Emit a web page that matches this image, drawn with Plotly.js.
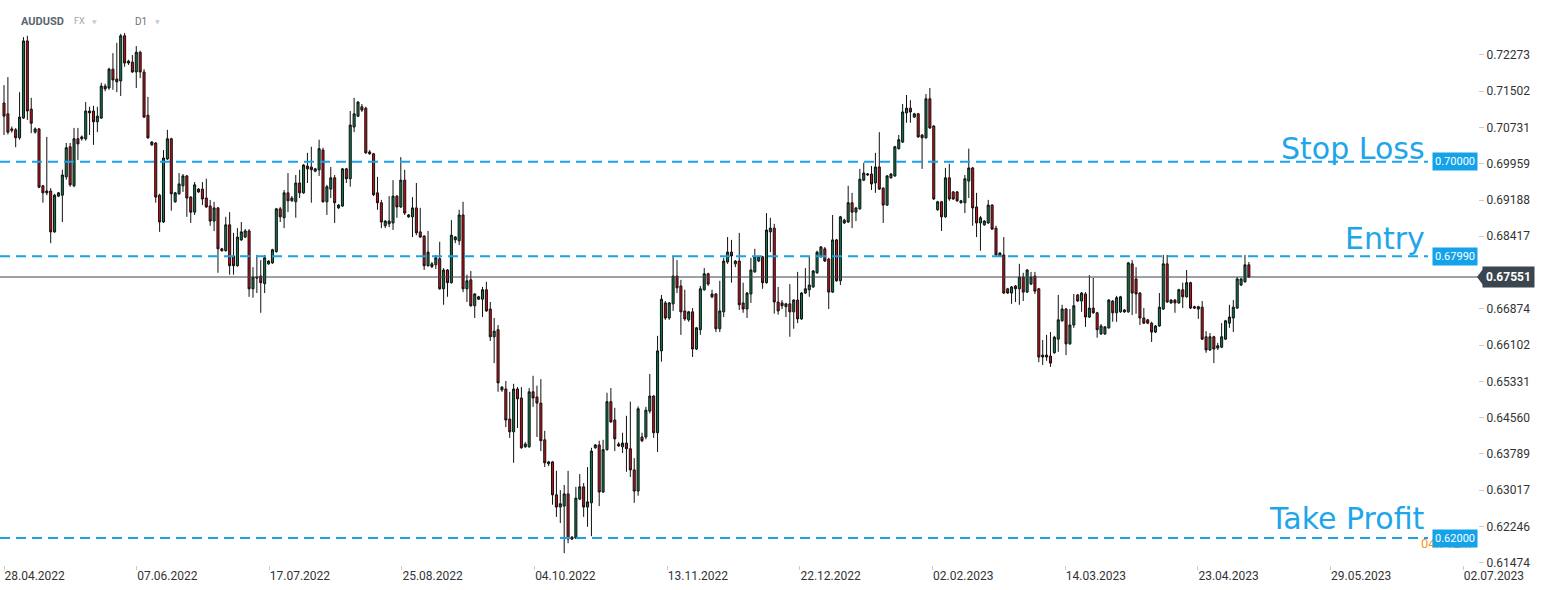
<!DOCTYPE html>
<html><head><meta charset="utf-8">
<script src="https://cdn.plot.ly/plotly-3.0.1.min.js"></script>
<style>html,body{margin:0;padding:0;background:#fff;}#chart{width:1546px;height:590px;}</style>
</head><body><div id="chart"></div>
<script>
// ---- data (AUDUSD D1) ----
const openP = [
.7125,.7102,.7070,.7068,.7051,.7093,.7257,.7112,.7063,.7070,.6949,.6938,.6938,.6851,.6927,.6929,.6968,.7032,.6949,.7049,
.7049,.7049,.7108,.7108,.7085,.7093,.7161,.7157,.7197,.7176,.7172,.7268,.7214,.7212,.7191,.7233,.7191,.7099,.7036,.7040,
.6929,.6872,.7006,.7049,.6915,.6932,.6949,.6970,.6925,.6893,.6942,.6942,.6923,.6906,.6874,.6902,.6815,.6811,.6866,.6800,
.6779,.6834,.6840,.6853,.6730,.6755,.6757,.6741,.6783,.6785,.6809,.6900,.6881,.6934,.6917,.6915,.6955,.6934,.6991,.6989,
.6980,.6983,.7025,.6915,.6942,.6966,.6902,.6906,.6985,.6964,.7074,.7097,.7117,.7114,.7021,.7017,.6934,.6913,.6864,.6868,
.6870,.6927,.6904,.6961,.6883,.6883,.6902,.6851,.6842,.6779,.6783,.6781,.6794,.6730,.6770,.6743,.6834,.6832,.6887,.6730,
.6749,.6694,.6713,.6708,.6728,.6687,.6628,.6643,.6515,.6517,.6453,.6426,.6517,.6498,.6394,.6394,.6511,.6500,.6487,.6409,
.6358,.6362,.6292,.6266,.6268,.6294,.6198,.6200,.6283,.6309,.6266,.6275,.6392,.6398,.6298,.6388,.6490,.6451,.6400,.6394,
.6402,.6390,.6345,.6300,.6415,.6415,.6470,.6502,.6424,.6598,.6700,.6668,.6698,.6757,.6736,.6683,.6664,.6681,.6602,.6643,
.6728,.6762,.6719,.6719,.6645,.6681,.6787,.6808,.6783,.6789,.6700,.6687,.6719,.6766,.6789,.6798,.6743,.6851,.6859,.6702,
.6700,.6692,.6698,.6681,.6706,.6666,.6721,.6728,.6734,.6764,.6798,.6815,.6793,.6723,.6834,.6747,.6876,.6872,.6913,.6893,
.6900,.6961,.6972,.6974,.6955,.6989,.6944,.6908,.6966,.6970,.7028,.7042,.7104,.7114,.7095,.7102,.7057,.7051,.7134,.7076,
.6898,.6915,.6883,.6966,.6936,.6936,.6913,.6913,.6959,.6987,.6904,.6870,.6866,.6870,.6908,.6859,.6800,.6802,.6730,.6721,
.6736,.6730,.6755,.6723,.6740,.6757,.6730,.6589,.6589,.6587,.6594,.6623,.6662,.6687,.6613,.6653,.6717,.6704,.6719,.6670,
.6689,.6679,.6634,.6634,.6647,.6704,.6679,.6681,.6685,.6681,.6783,.6751,.6721,.6668,.6664,.6657,.6638,.6651,.6687,.6783,
.6700,.6706,.6700,.6728,.6713,.6743,.6692,.6692,.6691,.6628,.6600,.6628,.6604,.6606,.6623,.6657,.6668,.6689,.6738,.6745,
.6781];
const highP = [
.7163,.7180,.7075,.7072,.7148,.7265,.7268,.7136,.7073,.7072,.6951,.7053,.6944,.6932,.6936,.6983,.7040,.7040,.7072,.7072,
.7056,.7127,.7117,.7119,.7117,.7168,.7166,.7200,.7231,.7253,.7272,.7274,.7217,.7227,.7246,.7236,.7197,.7138,.7044,.7042,
.6932,.7025,.7068,.7051,.6936,.6976,.6974,.6972,.6927,.6957,.6944,.6957,.6964,.6919,.6915,.6904,.6817,.6883,.6893,.6849,
.6859,.6872,.6857,.6857,.6776,.6802,.6791,.6802,.6791,.6815,.6902,.6904,.6940,.6976,.6927,.6972,.6983,.6995,.7019,.7032,
.6987,.7047,.7030,.6951,.6989,.6972,.6910,.6987,.6987,.7108,.7136,.7129,.7123,.7117,.7025,.7019,.6968,.6919,.6876,.6927,
.6961,.6929,.7010,.6983,.6889,.6925,.6955,.6902,.6844,.6853,.6787,.6802,.6830,.6774,.6772,.6876,.6842,.6898,.6915,.6760,
.6768,.6721,.6715,.6734,.6745,.6702,.6668,.6653,.6523,.6534,.6511,.6528,.6521,.6521,.6404,.6519,.6545,.6524,.6538,.6428,
.6364,.6364,.6343,.6302,.6313,.6343,.6204,.6309,.6336,.6317,.6351,.6392,.6400,.6407,.6409,.6509,.6519,.6477,.6404,.6424,
.6460,.6490,.6370,.6480,.6424,.6479,.6549,.6504,.6630,.6717,.6704,.6702,.6798,.6791,.6749,.6728,.6683,.6689,.6649,.6736,
.6774,.6764,.6728,.6721,.6747,.6796,.6840,.6834,.6791,.6849,.6743,.6723,.6796,.6815,.6800,.6800,.6891,.6881,.6868,.6734,
.6706,.6700,.6740,.6708,.6766,.6723,.6774,.6800,.6770,.6811,.6821,.6819,.6796,.6887,.6836,.6885,.6879,.6949,.6934,.6904,
.6985,.6998,.6976,.6991,.7019,.7063,.6946,.6972,.6976,.7034,.7057,.7123,.7142,.7131,.7104,.7104,.7059,.7144,.7157,.7078,
.6917,.6917,.6987,.6996,.6938,.6938,.6919,.6972,.7028,.6989,.6934,.6885,.6876,.6919,.6910,.6864,.6808,.6840,.6732,.6736,
.6738,.6783,.6764,.6772,.6766,.6766,.6732,.6621,.6632,.6638,.6630,.6717,.6696,.6689,.6687,.6719,.6719,.6723,.6723,.6759,
.6753,.6681,.6655,.6651,.6708,.6706,.6715,.6715,.6687,.6787,.6791,.6776,.6723,.6689,.6666,.6660,.6653,.6721,.6802,.6802,
.6708,.6708,.6730,.6743,.6770,.6745,.6694,.6694,.6704,.6640,.6636,.6630,.6615,.6657,.6664,.6696,.6706,.6755,.6753,.6802,
.6787];
const lowP = [
.7057,.7058,.7062,.7031,.7047,.7091,.7089,.7061,.7060,.6944,.6913,.6929,.6827,.6849,.6925,.6872,.6962,.6947,.6946,.7004,
.7045,.7045,.7057,.7036,.7063,.7091,.7150,.7153,.7153,.7148,.7140,.7202,.7206,.7189,.7157,.7178,.7093,.7049,.7034,.6913,
.6851,.6870,.7004,.6896,.6913,.6930,.6936,.6883,.6870,.6887,.6934,.6908,.6902,.6864,.6853,.6764,.6809,.6809,.6760,.6760,
.6777,.6832,.6838,.6713,.6711,.6721,.6679,.6721,.6781,.6783,.6807,.6872,.6859,.6893,.6915,.6881,.6923,.6932,.6955,.6913,
.6978,.6970,.6913,.6887,.6923,.6870,.6900,.6904,.6955,.6947,.7063,.7095,.7106,.7017,.7015,.6927,.6898,.6859,.6859,.6861,
.6855,.6881,.6902,.6887,.6881,.6840,.6844,.6838,.6770,.6777,.6774,.6772,.6728,.6696,.6713,.6741,.6827,.6823,.6723,.6702,
.6692,.6668,.6706,.6670,.6681,.6619,.6572,.6511,.6511,.6436,.6413,.6360,.6434,.6390,.6392,.6392,.6479,.6415,.6385,.6351,
.6353,.6271,.6245,.6232,.6168,.6189,.6196,.6198,.6281,.6245,.6224,.6204,.6390,.6268,.6296,.6386,.6445,.6385,.6394,.6381,
.6341,.6330,.6275,.6290,.6404,.6410,.6465,.6413,.6383,.6575,.6664,.6664,.6683,.6721,.6632,.6662,.6660,.6585,.6600,.6632,
.6726,.6736,.6710,.6638,.6638,.6670,.6783,.6743,.6776,.6685,.6679,.6668,.6700,.6764,.6787,.6730,.6741,.6808,.6677,.6675,
.6687,.6670,.6628,.6645,.6657,.6664,.6719,.6713,.6732,.6762,.6796,.6787,.6687,.6721,.6745,.6738,.6868,.6870,.6859,.6874,
.6898,.6959,.6970,.6940,.6934,.6940,.6870,.6906,.6964,.6968,.7026,.7040,.7083,.7083,.7093,.7051,.6985,.7049,.7070,.6919,
.6896,.6853,.6881,.6917,.6919,.6915,.6911,.6891,.6923,.6864,.6840,.6811,.6864,.6868,.6855,.6800,.6798,.6719,.6719,.6698,
.6702,.6696,.6704,.6721,.6738,.6719,.6574,.6568,.6577,.6564,.6592,.6596,.6660,.6589,.6611,.6647,.6702,.6681,.6649,.6668,
.6677,.6626,.6632,.6632,.6645,.6660,.6660,.6679,.6679,.6679,.6674,.6677,.6653,.6655,.6655,.6617,.6636,.6649,.6685,.6700,
.6698,.6679,.6698,.6689,.6711,.6687,.6687,.6666,.6621,.6594,.6598,.6572,.6600,.6604,.6621,.6647,.6638,.6687,.6736,.6743,
.6753];
const closeP = [
.7097,.7063,.7067,.7051,.7095,.7257,.7108,.7082,.7070,.6946,.6934,.6934,.6851,.6929,.6934,.6972,.7030,.6951,.7049,.7038,
.7053,.7108,.7104,.7085,.7097,.7161,.7155,.7197,.7174,.7170,.7268,.7210,.7210,.7191,.7233,.7191,.7095,.7051,.7042,.6925,
.6872,.7008,.7049,.6932,.6934,.6953,.6970,.6923,.6893,.6951,.6936,.6921,.6904,.6874,.6902,.6815,.6811,.6866,.6779,.6779,
.6840,.6851,.6853,.6730,.6755,.6753,.6743,.6796,.6789,.6813,.6900,.6883,.6934,.6917,.6923,.6955,.6934,.6993,.6985,.6983,
.6985,.7028,.6915,.6947,.6966,.6913,.6908,.6985,.6964,.7078,.7102,.7127,.7110,.7019,.7017,.6930,.6913,.6872,.6874,.6874,
.6927,.6904,.6961,.6891,.6887,.6902,.6849,.6840,.6779,.6808,.6777,.6796,.6730,.6770,.6743,.6844,.6840,.6887,.6730,.6747,
.6694,.6719,.6708,.6728,.6683,.6628,.6640,.6530,.6521,.6451,.6426,.6517,.6496,.6392,.6400,.6511,.6498,.6487,.6407,.6360,
.6362,.6292,.6266,.6273,.6294,.6198,.6202,.6285,.6309,.6266,.6277,.6385,.6398,.6298,.6388,.6490,.6447,.6411,.6396,.6402,
.6390,.6345,.6300,.6475,.6407,.6472,.6502,.6424,.6598,.6708,.6668,.6700,.6757,.6732,.6681,.6666,.6681,.6602,.6647,.6730,
.6762,.6740,.6713,.6645,.6683,.6789,.6808,.6800,.6789,.6696,.6687,.6721,.6770,.6798,.6798,.6743,.6855,.6859,.6702,.6683,
.6694,.6698,.6681,.6706,.6666,.6721,.6730,.6738,.6768,.6808,.6819,.6789,.6723,.6834,.6747,.6883,.6870,.6913,.6893,.6902,
.6963,.6976,.6974,.6953,.6989,.6942,.6908,.6970,.6974,.7032,.7047,.7106,.7114,.7106,.7102,.7053,.7051,.7134,.7072,.6921,
.6915,.6883,.6966,.6921,.6921,.6917,.6917,.6964,.6987,.6902,.6870,.6881,.6874,.6908,.6857,.6802,.6806,.6721,.6721,.6734,
.6730,.6755,.6723,.6770,.6755,.6725,.6585,.6585,.6585,.6572,.6627,.6664,.6687,.6613,.6653,.6694,.6704,.6721,.6670,.6689,
.6679,.6643,.6651,.6649,.6706,.6679,.6711,.6713,.6681,.6785,.6721,.6719,.6668,.6657,.6657,.6638,.6651,.6691,.6783,.6702,
.6706,.6700,.6728,.6713,.6743,.6689,.6689,.6687,.6623,.6600,.6628,.6602,.6609,.6628,.6662,.6670,.6691,.6751,.6751,.6781,
.6755];
const dateLabels = ['28.04.2022','07.06.2022','17.07.2022','25.08.2022','04.10.2022','13.11.2022',
  '22.12.2022','02.02.2023','14.03.2023','23.04.2023','29.05.2023','02.07.2023'];
// the 0.67645 tick is hidden behind the current-price label in the reference
const yTicks = [0.61474,0.62246,0.63017,0.63789,0.64560,0.65331,0.66102,0.66874,0.68417,0.69188,0.69959,0.70731,0.71502,0.72273];
const stopLoss = 0.70000, entry = 0.67990, takeProfit = 0.62000, lastPrice = 0.67551;

// ---- build ----
const N = closeP.length;
const xIdx = Array.from({length: N}, (_, i) => i);
const barsPerLabel = 34.1;
const tickvals = dateLabels.map((_, k) => k * barsPerLabel);

const blue = '#1ba1e6';
const trace = {
  type: 'candlestick', x: xIdx, open: openP, high: highP, low: lowP, close: closeP,
  increasing: {line: {color: '#111', width: 1}, fillcolor: '#0b7a4b'},
  decreasing: {line: {color: '#111', width: 1}, fillcolor: '#cf0a14'},
  whiskerwidth: 0, hoverinfo: 'skip', showlegend: false
};

function hline(y, dash, color, width, x1) {
  return {type: 'line', xref: 'paper', x0: 0, x1: x1, yref: 'y', y0: y, y1: y,
          line: {color: color, width: width, dash: dash}, layer: 'above'};
}
function priceBox(y, txt) {
  return {xref: 'paper', x: 1, xanchor: 'right', yref: 'y', y: y, yanchor: 'middle',
          text: txt, showarrow: false, bgcolor: '#14a3ea', borderpad: 2,
          font: {family: 'Roboto, sans-serif', size: 11, color: '#fff'}};
}
function bigLabel(y, txt, shift) {
  return {xref: 'paper', x: 1427 / 1478, xanchor: 'right', yref: 'y', y: y, yanchor: 'middle', yshift: shift,
          text: txt, showarrow: false, font: {family: 'DejaVu Sans, sans-serif', size: 30, color: '#1ea5ea'}};
}
const hy = 1 - 21 / 565;
const layout = {
  width: 1546, height: 590, margin: {l: 0, r: 68, t: 0, b: 25},
  paper_bgcolor: '#fff', plot_bgcolor: '#fff', showlegend: false, boxgap: 0.25,
  xaxis: {range: [-1.03, 378.9], tickvals: tickvals, ticktext: dateLabels, showgrid: false, zeroline: false,
          ticks: 'outside', ticklen: 4, tickcolor: '#ccc', ticklabelposition: 'outside right',
          rangeslider: {visible: false}, tickfont: {family: 'Roboto, sans-serif', size: 12, color: '#333'},
          showline: false, fixedrange: true},
  yaxis: {side: 'right', range: [0.61428, 0.7344], tickvals: yTicks, tickformat: '.5f', showgrid: false,
          zeroline: false, ticks: 'outside', ticklen: 5, tickcolor: '#ccc',
          tickfont: {family: 'Roboto, sans-serif', size: 12, color: '#333'}, showline: false, fixedrange: true},
  shapes: [
    hline(lastPrice, 'solid', '#3a4550', 1, 1),
    hline(stopLoss, '10px,6px', blue, 2, 1428 / 1478),
    hline(entry, '10px,6px', blue, 2, 1428 / 1478),
    hline(takeProfit, '10px,6px', blue, 2, 1428 / 1478),
    {type: 'path', xref: 'paper', xsizemode: 'pixel', xanchor: 1, yref: 'y', ysizemode: 'pixel', yanchor: lastPrice,
     path: 'M -1 0 L 5 8 L 5 -8 Z', fillcolor: '#3a4550', line: {width: 0}}
  ],
  annotations: [
    bigLabel(stopLoss, 'Stop Loss', 13),
    bigLabel(entry, 'Entry', 18),
    bigLabel(takeProfit, 'Take Profit', 20),
    {xref: 'paper', x: 1419 / 1478, xanchor: 'left', yref: 'y', y: takeProfit, yanchor: 'middle', yshift: -5,
     text: '04h 12m', showarrow: false, font: {family: 'Roboto, sans-serif', size: 13, color: '#f7941d'}},
    priceBox(stopLoss, '0.70000'),
    priceBox(entry, '0.67990'),
    priceBox(takeProfit, '0.62000'),
    {xref: 'paper', x: 1, xanchor: 'left', xshift: 4, yref: 'y', y: lastPrice, yanchor: 'middle',
     text: '<b>0.67551</b>', showarrow: false, bgcolor: '#3a4550', borderpad: 3,
     font: {family: 'Roboto, sans-serif', size: 12, color: '#fff'}},
    {xref: 'paper', x: 19 / 1478, xanchor: 'left', yref: 'paper', y: hy, yanchor: 'middle', showarrow: false,
     text: '<b>AUDUSD</b>', font: {family: 'Roboto, sans-serif', size: 11, color: '#5b6670'}},
    {xref: 'paper', x: 72 / 1478, xanchor: 'left', yref: 'paper', y: hy, yanchor: 'middle', showarrow: false,
     text: 'FX', font: {family: 'Roboto, sans-serif', size: 9, color: '#9aa3aa'}},
    {xref: 'paper', x: 90 / 1478, xanchor: 'left', yref: 'paper', y: hy, yanchor: 'middle', showarrow: false,
     text: '▼', font: {family: 'DejaVu Sans, sans-serif', size: 6, color: '#c8cdd1'}},
    {xref: 'paper', x: 133 / 1478, xanchor: 'left', yref: 'paper', y: hy, yanchor: 'middle', showarrow: false,
     text: 'D1', font: {family: 'Roboto, sans-serif', size: 10, color: '#6b757d'}},
    {xref: 'paper', x: 153 / 1478, xanchor: 'left', yref: 'paper', y: hy, yanchor: 'middle', showarrow: false,
     text: '▼', font: {family: 'DejaVu Sans, sans-serif', size: 6, color: '#c8cdd1'}}
  ]
};
Plotly.newPlot('chart', [trace], layout, {displayModeBar: false, staticPlot: true});
</script></body></html>
